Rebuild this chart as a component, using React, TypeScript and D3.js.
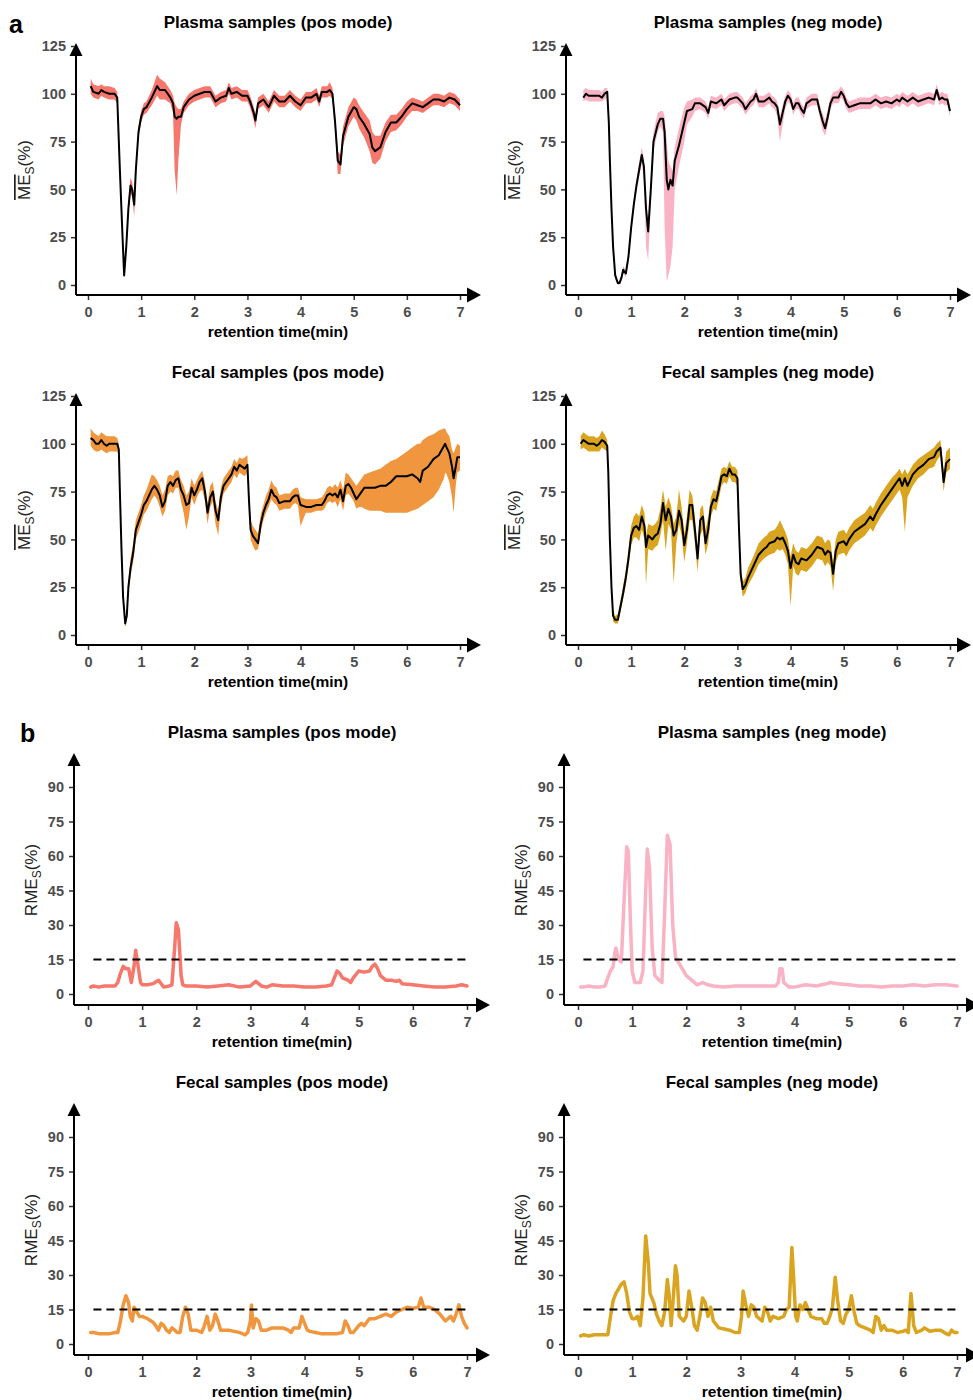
import React, { useRef, useEffect } from 'react'
import * as d3 from 'd3'

// matrix effect rows: [time (min), mean, lower, upper]
const plasmaPosME = [
  [0.05,104,100,108],[0.1,101,98,105],[0.2,100,97,104],[0.25,102,99,105],[0.3,101,98,104],[0.4,100,97,104],[0.5,100,97,103],[0.55,98,95,101],
  [0.6,60,57,63],[0.65,25,22,28],[0.68,5,4,7],[0.72,20,18,23],[0.76,40,37,44],[0.8,52,48,56],[0.83,50,46,54],[0.87,42,36,46],[0.9,60,56,64],
  [0.95,80,77,83],[1.0,88,85,91],[1.05,92,89,95],[1.1,93,90,96],[1.2,98,94,102],[1.3,104,99,110],[1.35,102,97,108],[1.45,102,97,106],
  [1.5,100,96,104],[1.55,98,95,102],[1.6,95,90,99],[1.63,88,60,95],[1.67,87,47,93],[1.7,88,65,92],[1.75,88,84,92],[1.8,93,90,96],
  [1.9,97,94,100],[2.0,99,96,102],[2.1,100,97,103],[2.2,101,98,104],[2.3,101,98,104],[2.4,96,93,99],[2.5,98,95,101],[2.6,99,96,102],
  [2.65,103,100,106],[2.7,100,97,103],[2.8,101,98,104],[2.9,99,96,102],[3.0,99,96,102],[3.05,96,93,99],[3.12,90,86,93],[3.15,86,82,89],
  [3.2,95,92,98],[3.3,97,94,100],[3.35,95,92,98],[3.4,93,90,96],[3.5,99,96,102],[3.6,96,93,99],[3.7,96,93,99],[3.8,99,96,102],
  [3.9,96,93,99],[4.0,94,91,97],[4.1,98,95,101],[4.2,98,95,101],[4.3,100,97,103],[4.35,96,93,99],[4.4,101,98,104],[4.5,101,98,104],
  [4.55,102,99,106],[4.6,100,97,103],[4.65,85,80,89],[4.7,65,58,70],[4.75,63,58,68],[4.8,78,73,83],[4.9,88,83,93],[5.0,93,88,98],
  [5.05,92,86,97],[5.1,88,82,94],[5.2,84,77,90],[5.3,79,70,86],[5.35,72,64,80],[5.4,70,63,78],[5.5,72,66,78],[5.6,80,75,85],
  [5.7,85,80,89],[5.8,85,81,89],[5.9,88,84,92],[6.0,92,88,96],[6.1,95,91,98],[6.2,94,91,97],[6.3,93,90,96],[6.4,95,92,98],
  [6.5,97,94,100],[6.6,97,94,100],[6.7,96,93,99],[6.8,98,95,101],[6.9,97,94,100],[7.0,94,91,97],
]

const plasmaNegME = [
  [0.1,98,96,102],[0.15,100,97,103],[0.2,99,96,102],[0.3,99,96,102],[0.4,99,96,102],[0.45,98,96,101],[0.5,100,97,103],[0.55,101,98,103],
  [0.58,85,82,88],[0.6,65,62,68],[0.63,40,37,43],[0.66,20,18,23],[0.7,5,3,7],[0.75,1,0,2],[0.78,1,0,2],[0.82,4,2,6],[0.85,8,6,10],
  [0.9,6,4,8],[0.95,15,12,18],[1.0,30,27,33],[1.05,42,39,45],[1.1,52,49,55],[1.15,60,57,64],[1.2,68,64,72],[1.24,62,55,66],
  [1.28,40,20,45],[1.32,28,13,32],[1.37,50,42,55],[1.42,75,70,80],[1.5,84,80,90],[1.55,87,83,91],[1.6,87,80,91],[1.63,80,30,88],
  [1.67,55,2,75],[1.7,50,5,65],[1.74,55,10,62],[1.78,52,20,60],[1.82,65,50,72],[1.9,73,62,82],[2.0,85,75,93],[2.05,91,84,96],
  [2.15,92,88,97],[2.2,95,91,98],[2.3,95,92,98],[2.4,93,90,96],[2.45,90,87,93],[2.5,96,93,99],[2.6,95,92,98],[2.7,97,94,100],
  [2.75,94,91,97],[2.85,97,94,100],[2.95,98,95,101],[3.0,98,95,101],[3.1,95,92,98],[3.15,92,89,95],[3.25,96,93,99],[3.3,97,94,100],
  [3.35,100,97,103],[3.4,96,93,99],[3.5,96,93,99],[3.6,98,95,101],[3.65,96,93,99],[3.7,95,92,98],[3.75,93,88,96],[3.8,84,75,88],
  [3.85,90,84,94],[3.9,96,92,99],[3.95,99,96,102],[4.0,97,94,100],[4.05,92,89,95],[4.1,95,92,98],[4.15,95,92,98],[4.2,92,89,95],
  [4.25,90,87,93],[4.3,95,92,98],[4.4,97,94,100],[4.5,97,94,100],[4.55,91,88,94],[4.6,86,81,90],[4.65,82,78,86],[4.7,88,84,92],
  [4.75,95,92,98],[4.8,98,95,101],[4.9,98,95,102],[4.95,101,98,104],[5.0,99,96,102],[5.05,95,92,98],[5.1,93,90,96],[5.2,94,91,97],
  [5.3,95,92,98],[5.4,95,92,98],[5.5,95,92,98],[5.6,97,94,100],[5.7,95,92,98],[5.8,96,93,99],[5.9,95,92,98],[6.0,97,94,100],
  [6.05,96,93,99],[6.1,98,95,101],[6.2,96,93,99],[6.3,98,95,101],[6.4,96,93,99],[6.5,97,94,100],[6.6,98,95,101],[6.7,97,94,100],
  [6.75,102,99,105],[6.8,97,94,100],[6.85,98,95,101],[6.9,97,94,100],[6.95,97,94,100],[7.0,91,88,94],
]

const fecalPosME = [
  [0.05,103,99,108],[0.1,102,97,106],[0.15,100,96,105],[0.2,100,96,104],[0.25,102,97,106],[0.3,100,96,105],[0.35,99,95,104],
  [0.4,100,96,104],[0.5,100,96,104],[0.55,100,96,103],[0.58,97,94,100],[0.6,75,72,78],[0.63,45,42,48],[0.66,20,17,23],[0.7,6,4,8],
  [0.73,10,8,13],[0.76,25,22,28],[0.8,35,31,40],[0.85,43,38,48],[0.9,55,50,60],[1.0,63,58,68],[1.05,68,63,73],[1.1,70,65,76],
  [1.15,73,68,80],[1.2,76,71,84],[1.25,78,73,83],[1.3,76,71,81],[1.35,73,67,78],[1.4,67,62,73],[1.45,70,65,76],[1.5,78,73,83],
  [1.55,80,75,84],[1.6,78,74,83],[1.65,81,77,86],[1.7,82,77,86],[1.75,76,70,81],[1.8,73,64,78],[1.85,68,55,73],[1.9,69,62,75],
  [1.95,77,72,82],[2.0,73,68,78],[2.05,76,72,81],[2.1,80,75,84],[2.15,82,76,86],[2.2,75,70,80],[2.25,64,58,69],[2.3,72,67,78],
  [2.35,75,70,80],[2.4,65,58,70],[2.45,60,52,65],[2.5,72,67,77],[2.55,78,74,82],[2.6,80,76,84],[2.65,82,78,86],[2.7,84,80,88],
  [2.75,88,84,92],[2.8,86,82,90],[2.85,89,85,93],[2.9,88,84,92],[2.95,87,83,93],[3.0,89,85,94],[3.03,70,65,75],[3.06,55,50,60],
  [3.1,52,47,57],[3.15,50,44,55],[3.2,48,45,53],[3.25,58,54,63],[3.3,64,60,68],[3.35,68,64,73],[3.4,71,67,76],[3.45,76,71,81],
  [3.5,73,69,78],[3.55,72,68,77],[3.6,69,65,73],[3.7,70,66,74],[3.8,70,66,74],[3.85,72,68,76],[3.9,73,69,77],[3.95,73,68,77],
  [4.0,68,57,72],[4.1,67,64,71],[4.2,67,64,71],[4.3,68,65,71],[4.4,68,65,72],[4.45,70,66,74],[4.5,73,69,77],[4.55,74,70,78],
  [4.6,73,69,77],[4.65,74,70,79],[4.7,72,67,77],[4.75,76,71,81],[4.8,70,65,76],[4.85,78,73,85],[4.9,79,74,84],[4.95,77,72,82],
  [5.0,74,70,80],[5.05,71,66,78],[5.1,73,67,80],[5.15,75,67,82],[5.2,77,66,84],[5.3,77,65,85],[5.4,77,65,86],[5.5,78,65,87],
  [5.6,78,64,89],[5.7,80,64,91],[5.8,83,64,92],[5.9,83,64,94],[6.0,83,64,96],[6.1,84,65,98],[6.2,82,66,100],[6.25,80,67,100],
  [6.3,86,68,102],[6.4,88,70,104],[6.5,92,72,105],[6.6,94,76,107],[6.7,99,82,108],[6.72,100,85,108],[6.75,98,84,106],[6.8,95,80,104],
  [6.85,88,72,97],[6.88,82,64,95],[6.92,88,78,98],[6.95,93,85,100],[7.0,93,86,99],
]

const fecalNegME = [
  [0.05,100,97,104],[0.1,102,98,106],[0.15,101,97,105],[0.2,100,96,104],[0.3,100,96,104],[0.35,99,96,103],[0.4,100,96,104],
  [0.45,102,98,107],[0.5,101,97,105],[0.55,99,96,102],[0.57,85,82,88],[0.6,50,47,53],[0.63,25,22,28],[0.66,10,7,13],[0.7,8,6,10],
  [0.75,8,6,11],[0.8,15,12,18],[0.85,22,19,26],[0.9,30,26,34],[0.95,40,36,45],[1.0,52,47,57],[1.05,56,51,62],[1.1,57,51,64],
  [1.15,55,49,62],[1.2,62,55,68],[1.25,57,50,64],[1.28,46,26,52],[1.32,52,45,58],[1.4,50,44,57],[1.45,52,46,58],[1.5,53,47,60],
  [1.55,58,52,66],[1.6,69,60,76],[1.65,60,44,67],[1.7,66,58,72],[1.75,62,55,68],[1.8,52,27,58],[1.85,55,48,62],[1.9,65,58,76],
  [1.95,60,52,67],[2.0,47,38,53],[2.05,55,48,62],[2.1,68,60,76],[2.15,68,60,73],[2.2,55,48,62],[2.25,40,33,45],[2.3,60,52,66],
  [2.35,62,55,68],[2.4,48,42,55],[2.45,55,48,62],[2.5,67,62,72],[2.55,71,66,76],[2.6,70,65,75],[2.65,76,71,81],[2.7,83,78,87],
  [2.75,84,80,88],[2.8,83,79,87],[2.85,87,83,91],[2.9,84,80,88],[2.95,84,80,88],[3.0,82,78,86],[3.03,55,50,60],[3.06,32,28,36],
  [3.1,24,20,28],[3.15,26,22,30],[3.2,30,26,35],[3.3,36,31,41],[3.4,42,37,48],[3.5,45,40,51],[3.55,46,41,52],[3.6,48,42,54],
  [3.7,49,43,55],[3.75,51,45,57],[3.8,50,44,60],[3.85,51,45,57],[3.9,48,42,54],[3.95,44,37,50],[4.0,35,15,41],[4.05,42,36,48],
  [4.1,38,32,44],[4.15,37,31,43],[4.2,40,34,46],[4.3,39,33,45],[4.4,42,36,48],[4.5,46,40,52],[4.6,45,39,51],[4.65,42,36,48],
  [4.7,44,38,50],[4.75,43,36,49],[4.8,32,23,38],[4.85,44,38,50],[4.9,48,42,54],[5.0,49,43,55],[5.05,47,41,53],[5.1,50,44,56],
  [5.2,54,48,60],[5.3,56,50,62],[5.4,58,52,64],[5.5,62,56,68],[5.55,60,54,66],[5.6,63,57,69],[5.7,68,62,74],[5.8,72,66,78],
  [5.9,76,70,82],[6.0,80,74,85],[6.05,82,76,87],[6.1,78,72,84],[6.15,82,54,87],[6.2,78,72,84],[6.3,84,78,89],[6.4,87,82,92],
  [6.5,89,84,94],[6.6,92,87,96],[6.7,93,88,98],[6.75,96,91,100],[6.82,98,94,102],[6.88,80,75,86],[6.93,90,85,96],[7.0,92,87,98],
]

// RME rows: [time (min), rme]
const plasmaPosRME = [
  [0.05,3],[0.1,3.5],[0.2,3],[0.3,3.5],[0.4,3.5],[0.5,3.5],[0.55,5],[0.6,9],[0.65,12],[0.7,11],[0.75,11],[0.8,5],[0.85,12],
  [0.88,19],[0.92,13],[0.97,5],[1.0,4],[1.1,4],[1.2,4.5],[1.3,6],[1.35,4.5],[1.4,3],[1.5,3.5],[1.55,4],[1.6,20],[1.63,31],
  [1.67,28],[1.72,8],[1.75,4],[1.8,3.5],[2.0,3.5],[2.2,3],[2.4,3.5],[2.6,4],[2.8,3],[3.0,3.5],[3.1,5.5],[3.2,3.5],[3.3,3],
  [3.4,4],[3.6,3.5],[3.8,3.5],[4.0,3],[4.2,3],[4.4,3.5],[4.5,4],[4.55,7],[4.6,10],[4.65,9],[4.7,7],[4.8,6],[4.85,5],[4.9,7],
  [5.0,10],[5.1,9.5],[5.2,10],[5.25,12],[5.3,13],[5.35,11],[5.4,8],[5.5,6],[5.6,6],[5.7,5.5],[5.75,6],[5.8,4.5],[6.0,4],
  [6.2,3.5],[6.4,3],[6.6,3],[6.8,3.5],[6.9,4],[7.0,3.5],
]

const plasmaNegRME = [
  [0.05,3],[0.1,3],[0.2,3.5],[0.3,3],[0.4,3],[0.5,3.5],[0.55,7],[0.6,10],[0.65,12],[0.68,18],[0.7,20],[0.75,15],[0.8,14],
  [0.85,40],[0.9,64],[0.93,62],[0.97,30],[1.0,10],[1.05,5],[1.1,5],[1.15,5],[1.2,10],[1.25,45],[1.28,63],[1.32,55],[1.37,20],
  [1.42,8],[1.5,6],[1.55,5],[1.6,35],[1.65,69],[1.7,65],[1.75,30],[1.8,16],[1.85,14],[1.9,12],[1.95,10],[2.0,8],[2.1,6],
  [2.2,4],[2.3,5],[2.4,4],[2.5,3.5],[2.7,3],[2.9,3.5],[3.1,3.5],[3.3,3.5],[3.5,3.5],[3.65,3.5],[3.7,5],[3.73,11],[3.77,11],
  [3.8,5],[3.9,3],[4.0,3],[4.2,4],[4.4,3.5],[4.5,4],[4.6,4.5],[4.65,5],[4.8,4.5],[5.0,4],[5.2,3.5],[5.4,3.5],[5.6,3],
  [5.8,3.5],[6.0,3.5],[6.2,4],[6.4,3.5],[6.6,4],[6.8,4],[7.0,3.5],
]

const fecalPosRME = [
  [0.05,5],[0.1,5],[0.2,4.5],[0.3,4.5],[0.4,4.5],[0.5,5],[0.55,5],[0.6,10],[0.65,17],[0.7,21],[0.75,18],[0.78,12],[0.82,10],
  [0.85,16],[0.9,14],[0.95,12],[1.0,12],[1.1,11],[1.2,9.5],[1.25,8],[1.3,6],[1.35,9],[1.4,8],[1.45,6],[1.5,5],[1.55,7],
  [1.6,6],[1.65,5],[1.7,5],[1.75,12],[1.8,16],[1.85,13],[1.9,6],[2.0,6],[2.1,5],[2.15,8],[2.2,12],[2.25,6],[2.3,8],[2.35,13],
  [2.4,10],[2.45,6],[2.5,6],[2.6,6],[2.7,5.5],[2.8,5],[2.9,4],[2.95,5],[3.0,10],[3.02,17],[3.05,7],[3.1,11],[3.15,10],[3.2,6],
  [3.3,6],[3.4,7],[3.5,7],[3.6,7],[3.7,6],[3.75,5],[3.8,7],[3.9,7],[3.95,12],[4.0,9],[4.05,6],[4.1,5.5],[4.2,5],[4.3,4.5],
  [4.4,4.5],[4.5,4.5],[4.6,4.5],[4.7,5],[4.75,10],[4.8,8],[4.85,5],[4.9,5],[5.0,8],[5.05,9],[5.1,8],[5.2,11],[5.3,11],
  [5.4,12],[5.5,13],[5.6,12],[5.7,14],[5.8,15],[5.9,16],[6.0,15.5],[6.1,16],[6.15,20],[6.2,16],[6.3,16],[6.4,15],[6.5,13],
  [6.6,10],[6.65,11],[6.7,12],[6.75,10],[6.8,13],[6.85,17],[6.9,12],[6.95,9],[7.0,7],
]

const fecalNegRME = [
  [0.05,3.5],[0.1,4],[0.2,3.5],[0.3,4],[0.4,4],[0.5,4],[0.55,4],[0.6,12],[0.65,19],[0.7,22],[0.75,24],[0.8,26],[0.85,27],
  [0.9,22],[0.95,14],[1.0,11],[1.05,11],[1.1,12],[1.15,8],[1.2,20],[1.25,47],[1.3,35],[1.33,22],[1.4,18],[1.45,13],[1.5,10],
  [1.55,8],[1.6,14],[1.65,28],[1.68,22],[1.72,8],[1.76,20],[1.8,34],[1.83,30],[1.87,12],[1.95,10],[2.0,12],[2.05,23],[2.1,16],
  [2.15,8],[2.2,6],[2.25,12],[2.3,20],[2.35,18],[2.4,12],[2.45,16],[2.5,10],[2.6,7],[2.7,6.5],[2.8,6],[2.9,5],[2.98,5],
  [3.02,12],[3.05,23],[3.1,17],[3.15,12],[3.2,17],[3.25,16],[3.3,12],[3.4,10],[3.45,16],[3.5,14],[3.55,10],[3.6,12],[3.7,11],
  [3.8,12],[3.85,15],[3.9,16],[3.95,42],[3.98,30],[4.02,12],[4.05,10],[4.1,17],[4.15,15],[4.2,18],[4.25,15],[4.3,12],[4.4,11],
  [4.5,11],[4.55,9],[4.6,9],[4.65,12],[4.7,16],[4.75,29],[4.8,18],[4.85,10],[4.9,9],[4.95,13],[5.0,15],[5.05,21],[5.1,14],
  [5.15,9],[5.2,8],[5.3,7],[5.4,6],[5.45,5],[5.5,12],[5.55,11],[5.6,6],[5.65,8],[5.7,6],[5.8,6],[5.9,5],[6.0,5.5],[6.05,6],
  [6.1,5],[6.15,22],[6.2,8],[6.25,5],[6.35,6],[6.4,7],[6.5,5.5],[6.6,6],[6.7,6],[6.8,4.5],[6.85,4],[6.9,6],[6.95,5],[7.0,5],
]

const titles = ['Plasma samples (pos mode)', 'Plasma samples (neg mode)', 'Fecal samples (pos mode)', 'Fecal samples (neg mode)']
const colors = ['#F6776C', '#F9B3C4', '#F0963E', '#D9A420']
const timeTicks = [0, 1, 2, 3, 4, 5, 6, 7]
const meTicks = [0, 25, 50, 75, 100, 125]
const rmeTicks = [0, 15, 30, 45, 60, 75, 90]
const rmeLimit = 15

const FONT = '"Liberation Sans", Arial, Helvetica, sans-serif'

// axis origins (where the two arrows meet) of the eight panels
const meOrigins = [[76, 295], [566, 295], [76, 645], [566, 645]]
const rmeOrigins = [[74, 1005], [564, 1005], [74, 1355], [564, 1355]]

const drawFrame = (g, ox, oy, xScale, yScale, yTicks, tipX, tipY, title, titleX, ylab) => {
  // y axis with arrow
  g.append('line').attr('x1', ox).attr('y1', oy).attr('x2', ox).attr('y2', tipY + 10)
    .attr('stroke', 'black').attr('stroke-width', 2)
  g.append('path').attr('d', `M${ox},${tipY} L${ox - 6.5},${tipY + 13} L${ox + 6.5},${tipY + 13} Z`).attr('fill', 'black')
  // x axis with arrow
  g.append('line').attr('x1', ox).attr('y1', oy).attr('x2', tipX - 10).attr('y2', oy)
    .attr('stroke', 'black').attr('stroke-width', 2)
  g.append('path').attr('d', `M${tipX},${oy} L${tipX - 14},${oy - 7.5} L${tipX - 14},${oy + 7.5} Z`).attr('fill', 'black')

  const yAxis = g.append('g').attr('transform', `translate(${ox - 1},0)`)
    .call(d3.axisLeft(yScale).tickValues(yTicks).tickSize(4).tickPadding(5).tickFormat(d3.format('d')))
  const xAxis = g.append('g').attr('transform', `translate(0,${oy + 1})`)
    .call(d3.axisBottom(xScale).tickValues(timeTicks).tickSize(4).tickPadding(7).tickFormat(d3.format('d')))
  for (const ax of [yAxis, xAxis]) {
    ax.select('.domain').remove()
    ax.selectAll('line').attr('stroke', '#333').attr('stroke-width', 1.5)
    ax.selectAll('text').attr('fill', '#4d4d4d').style('font-family', FONT)
      .style('font-size', '14.5px').style('font-weight', 'bold')
  }

  g.append('text').attr('x', titleX).attr('y', oy - 267).attr('text-anchor', 'middle')
    .style('font-family', FONT).style('font-size', '17px').style('font-weight', 'bold').text(title)
  g.append('text').attr('x', titleX).attr('y', oy + 42).attr('text-anchor', 'middle')
    .style('font-family', FONT).style('font-size', '15.5px').style('font-weight', 'bold').text('retention time(min)')

  // y label: ME / RME with subscript S
  const yl = g.append('text')
    .attr('transform', `translate(${ox - ylab.dx},${oy - 125}) rotate(-90)`)
    .attr('text-anchor', 'middle').attr('fill', '#222')
    .style('font-family', FONT).style('font-size', '17px')
  const main = yl.append('tspan').text(ylab.text)
  if (ylab.bar) main.style('text-decoration', 'overline')
  yl.append('tspan').attr('dy', 4).style('font-size', '12px').text('S')
  yl.append('tspan').attr('dy', -4).text('(%)')
}

const App = () => {
  const svgRef = useRef(null)

  useEffect(() => {
    const svg = d3.select(svgRef.current)
    svg.selectAll('*').remove()

    svg.append('text').attr('x', 9).attr('y', 33)
      .style('font-family', FONT).style('font-size', '25px').style('font-weight', 'bold').text('a')
    svg.append('text').attr('x', 20).attr('y', 742)
      .style('font-family', FONT).style('font-size', '25px').style('font-weight', 'bold').text('b')

    // panel a: mean matrix effect with band
    const meData = [plasmaPosME, plasmaNegME, fecalPosME, fecalNegME]
    meData.forEach((data, i) => {
      const [ox, oy] = meOrigins[i]
      const g = svg.append('g')
      const x = d3.scaleLinear().domain([0, 7]).range([ox + 12, ox + 384])
      const y = d3.scaleLinear().domain([0, 125]).range([oy - 10, oy - 249])

      const band = d3.area()
        .x(d => x(d[0]))
        .y0(d => y(d[2]))
        .y1(d => y(d[3]))
      const line = d3.line()
        .x(d => x(d[0]))
        .y(d => y(d[1]))

      g.append('path').datum(data).attr('d', band).attr('fill', colors[i])
      g.append('path').datum(data).attr('d', line)
        .attr('fill', 'none').attr('stroke', 'black').attr('stroke-width', 2).attr('stroke-linejoin', 'round')

      drawFrame(g, ox, oy, x, y, meTicks, ox + 405, oy - 252, titles[i], ox + 202, { text: 'ME', bar: true, dx: 46 })
    })

    // panel b: relative matrix effect with 15% limit
    const rmeData = [plasmaPosRME, plasmaNegRME, fecalPosRME, fecalNegRME]
    rmeData.forEach((data, i) => {
      const [ox, oy] = rmeOrigins[i]
      const g = svg.append('g')
      const x = d3.scaleLinear().domain([0, 7]).range([ox + 14, ox + 393])
      const y = d3.scaleLinear().domain([0, 90]).range([oy - 11, oy - 218])

      const line = d3.line()
        .x(d => x(d[0]))
        .y(d => y(d[1]))

      g.append('path').datum(data).attr('d', line)
        .attr('fill', 'none').attr('stroke', colors[i]).attr('stroke-width', 3.5)
        .attr('stroke-linejoin', 'round').attr('stroke-linecap', 'round')

      const [t0, t1] = d3.extent(data, d => d[0])
      g.append('line')
        .attr('x1', x(t0 + 0.05)).attr('x2', x(t1 + 0.05))
        .attr('y1', y(rmeLimit)).attr('y2', y(rmeLimit))
        .attr('stroke', 'black').attr('stroke-width', 2).attr('stroke-dasharray', '8,5')

      drawFrame(g, ox, oy, x, y, rmeTicks, ox + 416, oy - 252, titles[i], ox + 208, { text: 'RME', bar: false, dx: 37 })
    })
  }, [])

  return (
    <div className='App'>
      <svg ref={svgRef} width={973} height={1400}
        style={{ position: 'absolute', left: 0, top: 0, display: 'block', background: 'white' }}></svg>
    </div>
  )
}

export default App
